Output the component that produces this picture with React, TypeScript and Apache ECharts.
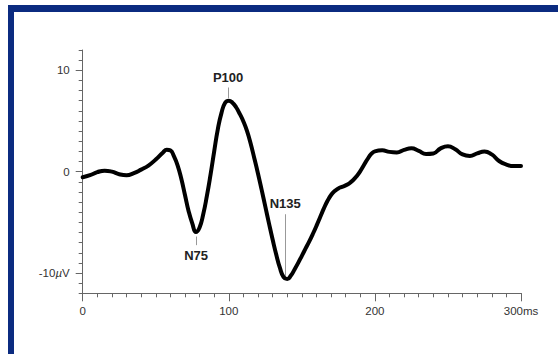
import React, { useEffect, useRef } from "react";
import * as echarts from "echarts";

const timesMs = [0, 5, 10, 15, 20, 25, 30, 35, 40, 45, 50, 55, 57.5, 60, 62.5, 65, 67.5, 70, 72.5, 75, 77.5, 80, 82.5, 85, 87.5, 90, 92.5, 95, 97.5, 100, 102.5, 105, 107.5, 110, 112.5, 115, 117.5, 120, 122.5, 125, 127.5, 130, 132.5, 135, 137.5, 140, 142.5, 145, 147.5, 150, 152.5, 155, 157.5, 160, 162.5, 165, 167.5, 170, 172.5, 175, 177.5, 180, 182.5, 185, 187.5, 190, 192.5, 195, 197.5, 200, 205, 210, 215, 220, 225, 230, 235, 240, 245, 250, 255, 260, 265, 270, 275, 280, 285, 290, 295, 300];
const amplitudeUv = [-0.55, -0.35, -0.05, 0.1, 0.0, -0.25, -0.35, -0.15, 0.2, 0.6, 1.2, 1.9, 2.15, 2.1, 1.5, 0.6, -0.7, -2.3, -3.9, -5.1, -5.95, -5.5, -4.2, -2.4, -0.3, 2.0, 4.2, 5.8, 6.8, 7.0, 6.8, 6.35, 5.7, 4.95, 4.0, 2.75, 1.3, -0.2, -1.8, -3.45, -5.1, -6.7, -8.2, -9.5, -10.4, -10.6, -10.25, -9.65, -9.0, -8.3, -7.6, -6.9, -6.15, -5.35, -4.5, -3.65, -2.9, -2.3, -1.9, -1.65, -1.5, -1.35, -1.15, -0.85, -0.45, 0.05, 0.65, 1.25, 1.75, 2.0, 2.1, 1.95, 1.9, 2.15, 2.3, 2.05, 1.75, 1.8, 2.3, 2.5, 2.2, 1.7, 1.55, 1.8, 2.0, 1.7, 1.05, 0.7, 0.55, 0.55];

const xMajorTicks = [0, 100, 200, 300];
const xMinorTicks = Array.from({ length: 31 }, (_, i) => i * 10);
const yMajorTicks = [-10, 0, 10];
const yMinorTicks = Array.from({ length: 25 }, (_, i) => i - 12);

const peakNames = ["P100", "N75", "N135"];
const peakMs = [99.5, 77.6, 138.6];
const peakLineFrom = [7.25, -6.4, -10.7];
const peakLineTo = [8.3, -7.25, -4.2];

export default function App() {
  const ref = useRef<HTMLDivElement>(null);
  useEffect(() => {
    if (!ref.current) return;
    const chart = echarts.init(ref.current, null, { renderer: "svg" });
    const axisColor = "#666";
    const labelStyle = { color: "#333", fontSize: 11.5, fontFamily: "Liberation Sans, Arial, sans-serif" };
    chart.setOption({
      animation: false,
      backgroundColor: "#ffffff",
      grid: { left: 82.7, right: 37, top: 50, bottom: 60.7 },
      xAxis: [
        {
          type: "value", min: 0, max: 300, position: "bottom",
          axisLine: { show: true, onZero: false, lineStyle: { color: axisColor, width: 1 } },
          axisTick: { show: true, customValues: xMajorTicks, length: 8, lineStyle: { color: axisColor } },
          axisLabel: {
            show: true, customValues: xMajorTicks, margin: 12, ...labelStyle,
            formatter: (v: number) => (v === 300 ? "300ms" : String(v)),
          },
          splitLine: { show: false },
        },
        {
          type: "value", min: 0, max: 300, position: "bottom", offset: 0,
          axisLine: { show: false, onZero: false },
          axisTick: { show: true, customValues: xMinorTicks, length: 4, lineStyle: { color: axisColor } },
          axisLabel: { show: false },
          splitLine: { show: false },
        },
      ],
      yAxis: [
        {
          type: "value", min: -12, max: 12, position: "left",
          axisLine: { show: true, onZero: false, lineStyle: { color: axisColor, width: 1 } },
          axisTick: { show: true, customValues: yMajorTicks, length: 7, lineStyle: { color: axisColor } },
          axisLabel: {
            show: true, customValues: yMajorTicks, margin: 13, ...labelStyle,
            formatter: (v: number) => (v === -10 ? "-10{i|µ}V" : String(v)),
            rich: { i: { fontStyle: "italic", ...labelStyle } },
          },
          splitLine: { show: false },
        },
        {
          type: "value", min: -12, max: 12, position: "left", offset: 0,
          axisLine: { show: false, onZero: false },
          axisTick: { show: true, customValues: yMinorTicks, length: 4, lineStyle: { color: axisColor } },
          axisLabel: { show: false },
          splitLine: { show: false },
        },
      ],
      series: [
        {
          type: "line",
          xAxisIndex: 0,
          yAxisIndex: 0,
          data: timesMs.map((t, i) => [t, amplitudeUv[i]]),
          smooth: 0.5,
          showSymbol: false,
          symbol: "none",
          lineStyle: { color: "#000", width: 4, cap: "round", join: "round" },
          z: 3,
          markLine: {
            silent: true,
            symbol: ["none", "none"],
            lineStyle: { color: "#999", width: 1, type: "solid" },
            label: {
              show: true, position: "end", distance: 4,
              color: "#222", fontSize: 13, fontWeight: "bold",
              fontFamily: "Liberation Sans, Arial, sans-serif",
              formatter: (p: any) => p.name,
            },
            data: peakNames.map((n, i) => [
              { name: n, coord: [peakMs[i], peakLineFrom[i]] },
              { coord: [peakMs[i], peakLineTo[i]] },
            ]),
            z: 1,
          },
        },
      ],
    });
    return () => chart.dispose();
  }, []);
  return (
    <div style={{ position: "fixed", left: 0, top: 0, width: 558, height: 354, background: "#fff" }}>
      <div ref={ref} style={{ position: "absolute", left: 0, top: 0, width: 558, height: 354 }} />
      <div style={{ position: "absolute", left: 8, top: 5, width: 550, height: 7, background: "#0b2b80" }} />
      <div style={{ position: "absolute", left: 8, top: 5, width: 6, height: 349, background: "#0b2b80" }} />
    </div>
  );
}
